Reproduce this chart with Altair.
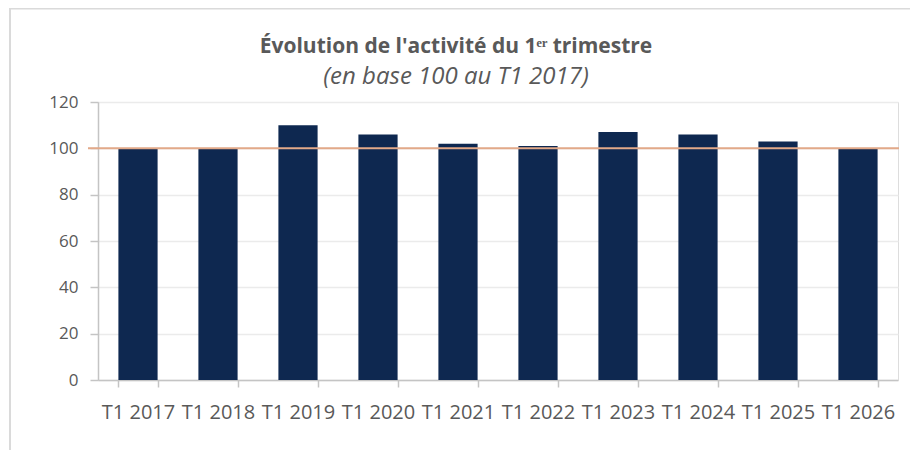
import altair as alt
import pandas as pd

categories = ["T1 2017", "T1 2018", "T1 2019", "T1 2020", "T1 2021",
              "T1 2022", "T1 2023", "T1 2024", "T1 2025", "T1 2026"]
values = [100, 100, 110, 106, 102, 101, 107, 106, 103, 100]
base_value = [100]
y_ticks = [0, 20, 40, 60, 80, 100, 120]
title_text = "Évolution de l'activité du 1ᵉʳ trimestre"
subtitle_text = "(en base 100 au T1 2017)"

df = pd.DataFrame({"cat": categories, "val": values})
base_df = pd.DataFrame({"y": base_value})
one = pd.DataFrame({"a": [0]})

FONT = "Open Sans"
GREY = "#595959"

bars = alt.Chart(df).mark_bar(color="#0E2850").encode(
    x=alt.X("cat:N", sort=categories,
            scale=alt.Scale(paddingInner=0.51, paddingOuter=0.255),
            axis=alt.Axis(title=None, labelAngle=0, tickBand="extent",
                          labelOverlap=False, labelBound=False, grid=False,
                          domainColor="#c4c4c4", domainWidth=1.5,
                          tickColor="#c4c4c4", tickWidth=1.5, tickSize=7,
                          labelPadding=15, labelFontSize=20, labelFont=FONT,
                          labelColor=GREY)),
    y=alt.Y("val:Q", scale=alt.Scale(domain=[0, 120]),
            axis=alt.Axis(title=None, values=y_ticks, grid=True,
                          gridColor="#ebebeb", gridWidth=1.5,
                          domainColor="#c4c4c4", domainWidth=1.5,
                          tickColor="#c4c4c4", tickWidth=1.5, tickSize=8,
                          labelPadding=12, labelFontSize=17, labelFont=FONT,
                          labelColor=GREY)),
)

base_line = alt.Chart(base_df).mark_rule(color="#E2A989", strokeWidth=2).encode(
    y="y:Q", x=alt.value(-10), x2=alt.value(801)
)

border_top = alt.Chart(one).mark_rule(color="#dadada", strokeWidth=2).encode(
    x=alt.value(-89), x2=alt.value(830), y=alt.value(-93.5)
)
border_left = alt.Chart(one).mark_rule(color="#dadada", strokeWidth=2).encode(
    x=alt.value(-88), y=alt.value(-94), y2=alt.value(380)
)

chart = alt.layer(border_top, border_left, bars, base_line).properties(
    width=800, height=278,
    autosize=alt.AutoSizeParams(type="none"),
    padding={"left": 90, "top": 94, "right": 12, "bottom": 70},
    title=alt.TitleParams(
        text=title_text, subtitle=subtitle_text,
        anchor="middle", dx=-42, offset=0, dy=82,
        font=FONT, fontSize=21, fontWeight="bold", color=GREY,
        subtitleFont=FONT, subtitleFontSize=24, subtitleFontStyle="italic",
        subtitleColor=GREY, subtitlePadding=8,
    ),
).configure_view(strokeWidth=0).configure(background="white")

chart.save("out.html", embed_options={"renderer": "svg", "actions": False})
